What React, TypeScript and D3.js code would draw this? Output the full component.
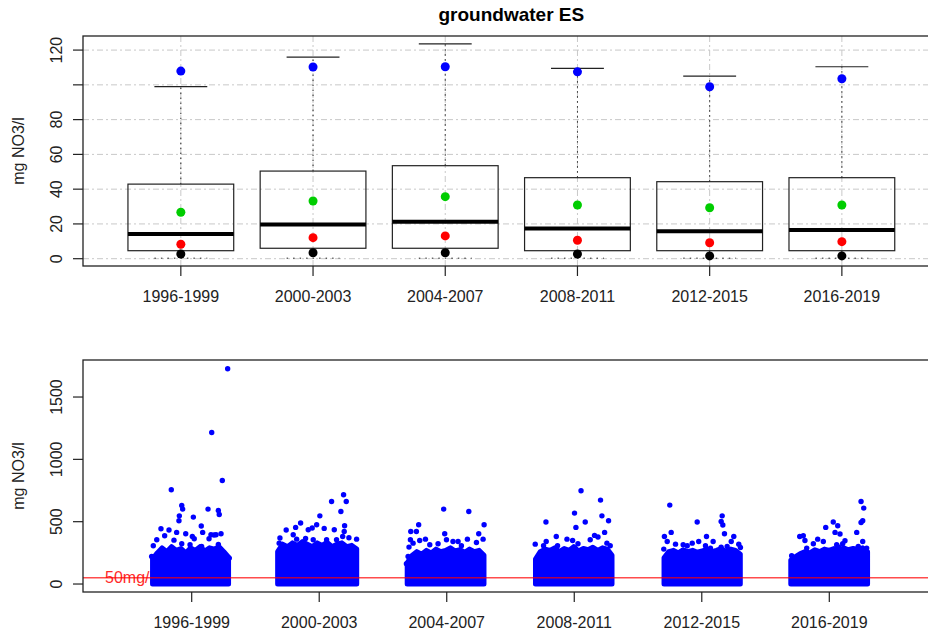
import React from "react";
import * as d3 from "d3";

// ---------- data ----------
const periods = ["1996-1999", "2000-2003", "2004-2007", "2008-2011", "2012-2015", "2016-2019"];

// top panel: box statistics (mg NO3/l)
const whiskerLow = [0.3, 0.3, 0.3, 0.3, 0.3, 0.3];
const q1 = [4.6, 6.0, 6.0, 4.6, 4.6, 4.6];
const median = [14.2, 19.6, 21.3, 17.3, 15.8, 16.5];
const q3 = [42.9, 50.4, 53.5, 46.6, 44.3, 46.6];
const whiskerHigh = [99, 116, 123.6, 109.5, 105, 110.4];
const blueVals = [107.9, 110.3, 110.4, 107.5, 98.9, 103.5];
const greenVals = [26.7, 33.2, 35.7, 30.9, 29.3, 30.9];
const redVals = [8.3, 12.1, 13.1, 10.6, 9.2, 9.8];
const blackVals = [2.7, 3.4, 3.4, 2.7, 1.6, 1.6];

const topTicks = [0, 20, 40, 60, 80, 100, 120];
const topTickLabels = ["0", "20", "40", "60", "80", "", "120"];

// bottom panel
const botTicks = [0, 500, 1000, 1500];
const botTickLabels = ["0", "500", "1000", "1500"];
const limitValue = 50;
const limitLabel = "50mg/l";

// dense core of each jittered cloud: left/right jitter extent and top envelope (mg/l)
const coreLeft = [0.693, 1.674, 2.69, 3.696, 4.704, 5.698];
const coreRight = [1.289, 2.294, 3.292, 4.296, 5.302, 6.3];
const coreTop = [
  [200, 250, 290, 260, 300, 270, 285, 250, 290, 270, 300, 265, 290, 280, 300, 260, 215],
  [260, 320, 300, 330, 310, 340, 320, 300, 330, 310, 335, 300, 320, 330, 300, 310, 280],
  [170, 230, 260, 240, 270, 250, 280, 260, 270, 290, 265, 275, 255, 280, 260, 270, 230],
  [200, 260, 280, 270, 290, 260, 285, 270, 300, 265, 285, 275, 295, 270, 290, 280, 230],
  [210, 260, 270, 250, 275, 260, 270, 255, 265, 280, 260, 270, 285, 260, 280, 270, 240],
  [190, 220, 245, 260, 250, 275, 260, 280, 270, 285, 270, 290, 275, 285, 280, 290, 260],
];

// individual visible points above the core (jittered x, value)
const ptsX1 = [1.282, 1.157, 1.24, 0.84, 0.922, 0.929, 1.128, 1.209, 1.216, 0.903, 0.9, 1.013, 1.075, 0.759, 0.822, 0.882, 0.953, 1.086, 1.23, 0.788, 1.005, 1.02, 1.151, 1.175, 1.191, 1.136, 0.726, 0.861, 0.699, 0.922, 0.987, 1.078, 1.209, 0.686, 1.274, 1.295];
const ptsY1 = [1727, 1215, 830, 756, 630, 601, 601, 590, 558, 547, 507, 537, 465, 443, 433, 414, 403, 414, 403, 387, 381, 363, 395, 393, 395, 363, 355, 352, 307, 323, 315, 301, 317, 221, 221, 208];
const ptsX2 = [2.191, 2.097, 2.212, 2.17, 2.005, 1.854, 1.815, 1.741, 1.945, 1.914, 1.98, 2.039, 2.118, 2.199, 2.196, 2.293, 2.233, 2.184, 1.692, 1.686, 1.796, 1.823, 1.893, 1.953, 2.058, 2.136];
const ptsY2 = [716, 662, 662, 582, 547, 489, 454, 433, 449, 435, 475, 446, 435, 467, 421, 360, 371, 381, 369, 328, 395, 360, 365, 355, 355, 355];
const ptsX3 = [2.976, 3.173, 2.78, 3.293, 2.718, 2.762, 2.984, 3.251, 2.715, 2.704, 2.736, 2.788, 2.833, 3.162, 3.285, 3.233, 2.998, 3.049, 3.089, 3.115, 2.932, 2.867, 2.697, 2.684];
const ptsY3 = [601, 582, 475, 475, 421, 421, 403, 403, 355, 296, 328, 349, 360, 360, 360, 333, 355, 341, 341, 307, 323, 315, 221, 163];
const ptsX4 = [4.053, 4.206, 4.002, 4.217, 4.269, 3.778, 4.086, 4.013, 4.238, 3.859, 3.943, 4.159, 4.186, 4.125, 3.78, 3.759, 3.694, 3.987, 4.029, 4.256, 4.282, 3.869, 4.282];
const ptsY4 = [748, 673, 569, 547, 507, 497, 497, 454, 414, 381, 360, 390, 377, 355, 341, 307, 320, 349, 323, 328, 307, 307, 227];
const ptsX5 = [4.749, 5.16, 5.152, 5.165, 5.178, 4.964, 4.76, 4.707, 4.729, 5.037, 5.251, 5.231, 5.29, 5.303, 5.089, 4.976, 4.794, 4.854, 4.886, 4.925, 5.029, 5.068, 5.152, 5.199, 4.702];
const ptsY5 = [633, 547, 502, 473, 403, 497, 414, 381, 341, 381, 381, 341, 320, 293, 341, 341, 320, 315, 307, 328, 307, 288, 296, 301, 280];
const ptsX6 = [6.249, 6.27, 6.262, 6.249, 5.972, 6.031, 6.066, 6.045, 6.084, 6.215, 5.768, 5.796, 5.809, 5.909, 5.953, 5.875, 6.123, 6.105, 6.058, 6.076, 6.262, 6.227, 6.293, 5.705, 5.823];
const ptsY6 = [662, 609, 507, 494, 454, 497, 467, 414, 401, 414, 381, 387, 349, 360, 341, 323, 347, 323, 315, 296, 341, 301, 288, 227, 288];

const ptsXAll = [ptsX1, ptsX2, ptsX3, ptsX4, ptsX5, ptsX6];
const ptsYAll = [ptsY1, ptsY2, ptsY3, ptsY4, ptsY5, ptsY6];

const FONT = "'Liberation Sans', Arial, Helvetica, sans-serif";
const GRID = "#c8c8c8";
const BLUE = "#0000ff";

export default function App() {
  const W = 928;
  const H = 634;

  // top panel geometry
  const tL = 83, tT = 36, tB = 266, tR = 939.7;
  const xTop = d3.scaleLinear().domain([0.26, 6.74]).range([tL, tR]);
  const yTop = d3.scaleLinear().domain([-4.2, 128.1]).range([tB, tT]);

  // bottom panel geometry
  const bL = 83, bT = 360, bB = 592, bR = 938;
  const xBot = d3.scaleLinear().domain([0.1476, 6.8524]).range([bL, bR]);
  const yBot = d3.scaleLinear().domain([-64, 1797]).range([bB, bT]);

  const boxHalf = 0.4;
  const capHalf = 0.2;

  const coreShapes = coreTop.map((tops, g) => {
    const n = tops.length;
    const xs = d3.range(n).map((i) => coreLeft[g] + ((coreRight[g] - coreLeft[g]) * i) / (n - 1));
    const pts: [number, number][] = [[xBot(coreLeft[g]), yBot(0)]];
    tops.forEach((v, i) => pts.push([xBot(xs[i]), yBot(v)]));
    pts.push([xBot(coreRight[g]), yBot(0)]);
    return d3.line()(pts) + "Z";
  });

  return (
    <svg
      width={W}
      height={H}
      viewBox={`0 0 ${W} ${H}`}
      style={{ position: "absolute", left: 0, top: 0, background: "#fff" }}
      fontFamily={FONT}
    >
      <rect x={0} y={0} width={W} height={H} fill="#fff" />

      {/* ================= TOP PANEL ================= */}
      <text x={(tL + tR) / 2} y={20.5} textAnchor="middle" fontWeight="bold" fontSize={19} fill="#000">
        groundwater ES
      </text>

      {/* grid */}
      <g stroke={GRID} strokeWidth={1} strokeDasharray="6,3,2,3">
        {topTicks.map((t) => (
          <line key={"hg" + t} x1={tL} x2={tR} y1={yTop(t)} y2={yTop(t)} />
        ))}
        {periods.map((p, i) => (
          <line key={"vg" + p} x1={xTop(i + 1)} x2={xTop(i + 1)} y1={tT} y2={tB} />
        ))}
      </g>

      {/* boxes */}
      {periods.map((p, i) => {
        const cx = xTop(i + 1);
        const bx0 = xTop(i + 1 - boxHalf);
        const bx1 = xTop(i + 1 + boxHalf);
        const cx0 = xTop(i + 1 - capHalf);
        const cx1 = xTop(i + 1 + capHalf);
        return (
          <g key={"box" + p}>
            <line x1={cx} x2={cx} y1={yTop(q3[i])} y2={yTop(whiskerHigh[i])} stroke="#222" strokeWidth={1} strokeDasharray="1.5,3.5" />
            <line x1={cx} x2={cx} y1={yTop(q1[i])} y2={yTop(whiskerLow[i])} stroke="#222" strokeWidth={1} strokeDasharray="1.5,3.5" />
            <line x1={cx0} x2={cx1} y1={yTop(whiskerHigh[i])} y2={yTop(whiskerHigh[i])} stroke="#222" strokeWidth={1.2} />
            <line x1={cx0} x2={cx1} y1={yTop(whiskerLow[i])} y2={yTop(whiskerLow[i])} stroke="#222" strokeWidth={1} strokeDasharray="1.5,5" />
            <rect x={bx0} y={yTop(q3[i])} width={bx1 - bx0} height={yTop(q1[i]) - yTop(q3[i])} fill="none" stroke="#222" strokeWidth={1.2} />
            <line x1={bx0} x2={bx1} y1={yTop(median[i])} y2={yTop(median[i])} stroke="#000" strokeWidth={4} />
            <circle cx={cx} cy={yTop(blueVals[i])} r={4.5} fill="#0000ff" />
            <circle cx={cx} cy={yTop(greenVals[i])} r={4.5} fill="#00cd00" />
            <circle cx={cx} cy={yTop(redVals[i])} r={4.5} fill="#ff0000" />
            <circle cx={cx} cy={yTop(blackVals[i])} r={4.5} fill="#000" />
          </g>
        );
      })}

      {/* frame */}
      <rect x={tL} y={tT} width={tR - tL} height={tB - tT} fill="none" stroke="#222" strokeWidth={1.3} />

      {/* y axis */}
      {topTicks.map((t, i) => (
        <g key={"yt" + t}>
          <line x1={tL - 10} x2={tL} y1={yTop(t)} y2={yTop(t)} stroke="#222" strokeWidth={1.2} />
          {topTickLabels[i] && (
            <text
              transform={`translate(${61.5},${yTop(t)}) rotate(-90)`}
              textAnchor="middle"
              fontSize={16}
              fill="#222"
            >
              {topTickLabels[i]}
            </text>
          )}
        </g>
      ))}
      <text transform={`translate(24,${(tT + tB) / 2}) rotate(-90)`} textAnchor="middle" fontSize={16} fill="#222">
        mg NO3/l
      </text>

      {/* x axis */}
      {periods.map((p, i) => (
        <g key={"xt" + p}>
          <line x1={xTop(i + 1)} x2={xTop(i + 1)} y1={tB} y2={tB + 10} stroke="#222" strokeWidth={1.2} />
          <text x={xTop(i + 1)} y={tB + 36} textAnchor="middle" fontSize={16} fill="#222">
            {p}
          </text>
        </g>
      ))}

      {/* ================= BOTTOM PANEL ================= */}
      <text x={105} y={583} fontSize={16} fill="#ff2a2a">
        {limitLabel}
      </text>

      {/* dense cores */}
      {coreShapes.map((d, g) => (
        <path key={"core" + g} d={d} fill={BLUE} stroke={BLUE} strokeWidth={5} strokeLinejoin="round" />
      ))}

      {/* individual points */}
      {ptsXAll.map((xs, g) =>
        xs.map((xv, k) => (
          <circle key={`p${g}-${k}`} cx={xBot(xv)} cy={yBot(ptsYAll[g][k])} r={2.7} fill={BLUE} />
        ))
      )}

      {/* 50 mg/l line */}
      <line x1={bL} x2={bR} y1={yBot(limitValue)} y2={yBot(limitValue)} stroke="#ff0000" strokeOpacity={0.7} strokeWidth={1.6} />

      <rect x={bL} y={bT} width={bR - bL} height={bB - bT} fill="none" stroke="#222" strokeWidth={1.3} />

      {botTicks.map((t, i) => (
        <g key={"byt" + t}>
          <line x1={bL - 10} x2={bL} y1={yBot(t)} y2={yBot(t)} stroke="#222" strokeWidth={1.2} />
          <text transform={`translate(${61.5},${yBot(t)}) rotate(-90)`} textAnchor="middle" fontSize={16} fill="#222">
            {botTickLabels[i]}
          </text>
        </g>
      ))}
      <text transform={`translate(24,${(bT + bB) / 2}) rotate(-90)`} textAnchor="middle" fontSize={16} fill="#222">
        mg NO3/l
      </text>

      {periods.map((p, i) => (
        <g key={"bxt" + p}>
          <line x1={xBot(i + 1)} x2={xBot(i + 1)} y1={bB} y2={bB + 10} stroke="#222" strokeWidth={1.2} />
          <text x={xBot(i + 1)} y={bB + 35.5} textAnchor="middle" fontSize={16} fill="#222">
            {p}
          </text>
        </g>
      ))}
    </svg>
  );
}
